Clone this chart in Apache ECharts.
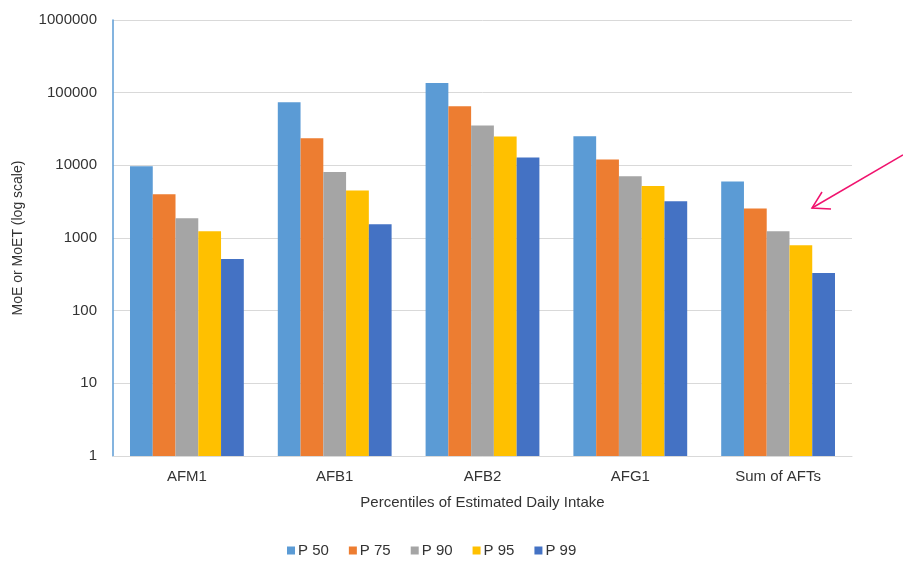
<!DOCTYPE html>
<html>
<head>
<meta charset="utf-8">
<script src="https://cdn.jsdelivr.net/npm/echarts@6/dist/echarts.min.js"></script>
<style>
html,body{margin:0;padding:0;background:#fff;}
#chart{width:903px;height:562px;}
</style>
</head>
<body>
<div id="chart"></div>
<script>
const categories = ['AFM1', 'AFB1', 'AFB2', 'AFG1', 'Sum of AFTs'];
const seriesNames = ['P 50', 'P 75', 'P 90', 'P 95', 'P 99'];
const p50 = [9700, 73600, 136000, 25100, 5970];
const p75 = [4000, 23500, 64900, 12000, 2540];
const p90 = [1870, 8100, 35300, 7070, 1240];
const p95 = [1240, 4490, 24900, 5200, 794];
const p99 = [515, 1550, 12800, 3200, 330];
const yTicks = [1, 10, 100, 1000, 10000, 100000, 1000000];
const colors = ['#5B9BD5', '#ED7D31', '#A5A5A5', '#FFC000', '#4472C4'];

const values = [p50, p75, p90, p95, p99];
const font = "'Liberation Sans', Arial, sans-serif";
const textColor = '#333333';
const chart = echarts.init(document.getElementById('chart'), null, {renderer: 'canvas'});

chart.setOption({
  animation: false,
  backgroundColor: '#ffffff',
  color: colors,
  grid: {left: 113, right: 51, top: 20, bottom: 106, containLabel: false},
  legend: {
    top: 543, left: 287, padding: 0,
    itemWidth: 8, itemHeight: 8, itemGap: 20,
    icon: 'rect',
    textStyle: {fontFamily: font, fontSize: 15, color: textColor, padding: [0, 0, 0, -2]},
    data: seriesNames
  },
  xAxis: {
    type: 'category',
    data: categories,
    name: 'Percentiles of Estimated Daily Intake',
    nameLocation: 'middle',
    nameGap: 39,
    nameTextStyle: {fontFamily: font, fontSize: 15, color: textColor},
    axisLine: {lineStyle: {color: '#D9D9D9', width: 1}},
    axisTick: {show: false},
    axisLabel: {fontFamily: font, fontSize: 15, color: textColor, margin: 13}
  },
  yAxis: {
    type: 'log',
    logBase: 10,
    min: yTicks[0],
    max: yTicks[yTicks.length - 1],
    name: 'MoE or MoET (log scale)',
    nameLocation: 'middle',
    nameRotate: 90,
    nameGap: 88,
    nameTextStyle: {fontFamily: font, fontSize: 14, color: textColor},
    axisLine: {show: true, onZero: false, lineStyle: {color: '#5B9BD5', width: 1.5}},
    axisTick: {show: false},
    splitLine: {lineStyle: {color: '#D9D9D9', width: 1}},
    axisLabel: {fontFamily: font, fontSize: 15, color: textColor, margin: 16,
      formatter: function (v) { return String(Math.round(v)); }}
  },
  series: seriesNames.map(function (name, i) {
    return {
      name: name,
      type: 'bar',
      data: values[i],
      barGap: '0%',
      barCategoryGap: '23%',
      itemStyle: {color: colors[i]}
    };
  }),
  graphic: [
    {type: 'line', shape: {x1: 903, y1: 155, x2: 812, y2: 208},
      style: {stroke: '#F0136E', lineWidth: 1.5}},
    {type: 'polyline', shape: {points: [[822, 192], [812, 208], [831, 209]]},
      style: {stroke: '#F0136E', lineWidth: 1.5, fill: null}}
  ]
});
</script>
</body>
</html>
